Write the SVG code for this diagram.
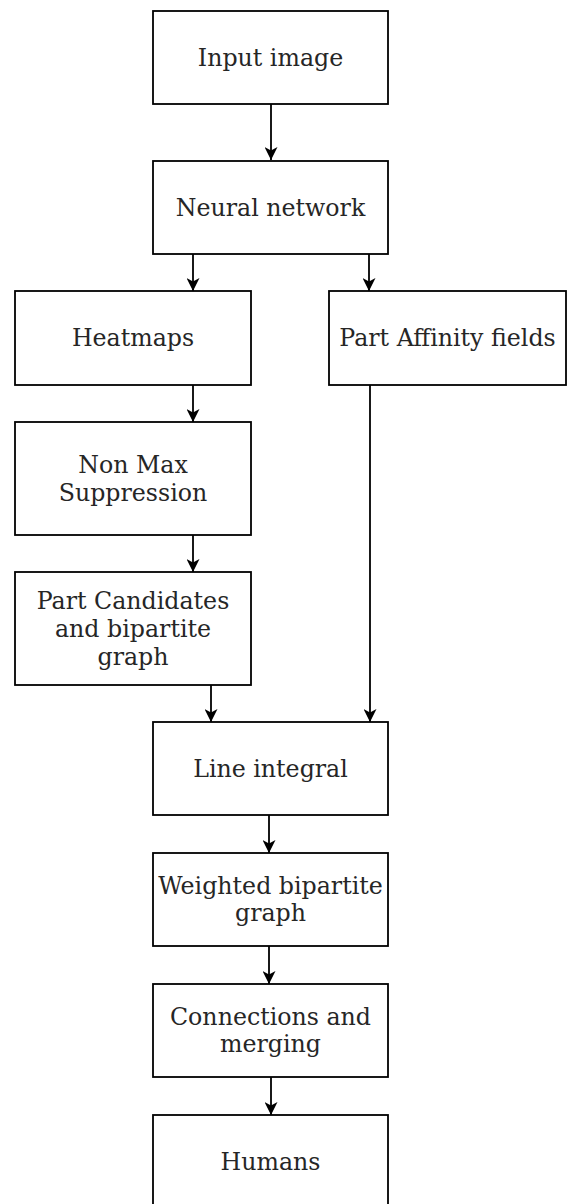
<svg xmlns="http://www.w3.org/2000/svg" width="569" height="1204" viewBox="0 0 569 1204">
<style>
.box{fill:#fff;stroke:#000;stroke-width:1.8}
.t{font-family:"DejaVu Serif",serif;font-size:23.7px;fill:#262626;text-anchor:middle}
.c{fill:none;stroke:#000;stroke-width:1.8}
</style>
<defs>
<marker id="ah" viewBox="0 0 13 13" refX="13" refY="6.5" markerWidth="13" markerHeight="13" markerUnits="userSpaceOnUse" orient="auto">
<path d="M0,0 L13,6.5 L0,13 L3.5,6.5 z" fill="#000"/>
</marker>
</defs>
<rect width="569" height="1204" fill="#fff"/>
<g id="connectors">
<line class="c" x1="271" y1="104" x2="271" y2="160" marker-end="url(#ah)"/>
<line class="c" x1="193" y1="254" x2="193" y2="291" marker-end="url(#ah)"/>
<line class="c" x1="369" y1="254" x2="369" y2="291" marker-end="url(#ah)"/>
<line class="c" x1="193" y1="385" x2="193" y2="422" marker-end="url(#ah)"/>
<line class="c" x1="193" y1="535" x2="193" y2="572" marker-end="url(#ah)"/>
<line class="c" x1="211" y1="685" x2="211" y2="722" marker-end="url(#ah)"/>
<line class="c" x1="370" y1="385" x2="370" y2="722" marker-end="url(#ah)"/>
<line class="c" x1="269" y1="815" x2="269" y2="853" marker-end="url(#ah)"/>
<line class="c" x1="269" y1="946" x2="269" y2="984" marker-end="url(#ah)"/>
<line class="c" x1="271" y1="1077" x2="271" y2="1115" marker-end="url(#ah)"/>
</g>
<g id="input-image"><rect class="box" x="153" y="11" width="235" height="93"/><text class="t" x="270.5" y="66">Input image</text></g>
<g id="neural-network"><rect class="box" x="153" y="161" width="235" height="93"/><text class="t" x="270.5" y="216">Neural network</text></g>
<g id="heatmaps"><rect class="box" x="15" y="291" width="236" height="94"/><text class="t" x="133" y="346">Heatmaps</text></g>
<g id="paf"><rect class="box" x="329" y="291" width="237" height="94"/><text class="t" x="447.5" y="346">Part Affinity fields</text></g>
<g id="nms"><rect class="box" x="15" y="422" width="236" height="113"/><text class="t" x="133" y="473">Non Max</text><text class="t" x="133" y="501">Suppression</text></g>
<g id="part-candidates"><rect class="box" x="15" y="572" width="236" height="113"/><text class="t" x="133" y="609">Part Candidates</text><text class="t" x="133" y="637">and bipartite</text><text class="t" x="133" y="665">graph</text></g>
<g id="line-integral"><rect class="box" x="153" y="722" width="235" height="93"/><text class="t" x="270.5" y="777">Line integral</text></g>
<g id="weighted"><rect class="box" x="153" y="853" width="235" height="93"/><text class="t" x="270.5" y="894">Weighted bipartite</text><text class="t" x="270.5" y="921">graph</text></g>
<g id="connections"><rect class="box" x="153" y="984" width="235" height="93"/><text class="t" x="270.5" y="1025">Connections and</text><text class="t" x="270.5" y="1052">merging</text></g>
<g id="humans"><rect class="box" x="153" y="1115" width="235" height="95"/><text class="t" x="270.5" y="1170">Humans</text></g>
</svg>
